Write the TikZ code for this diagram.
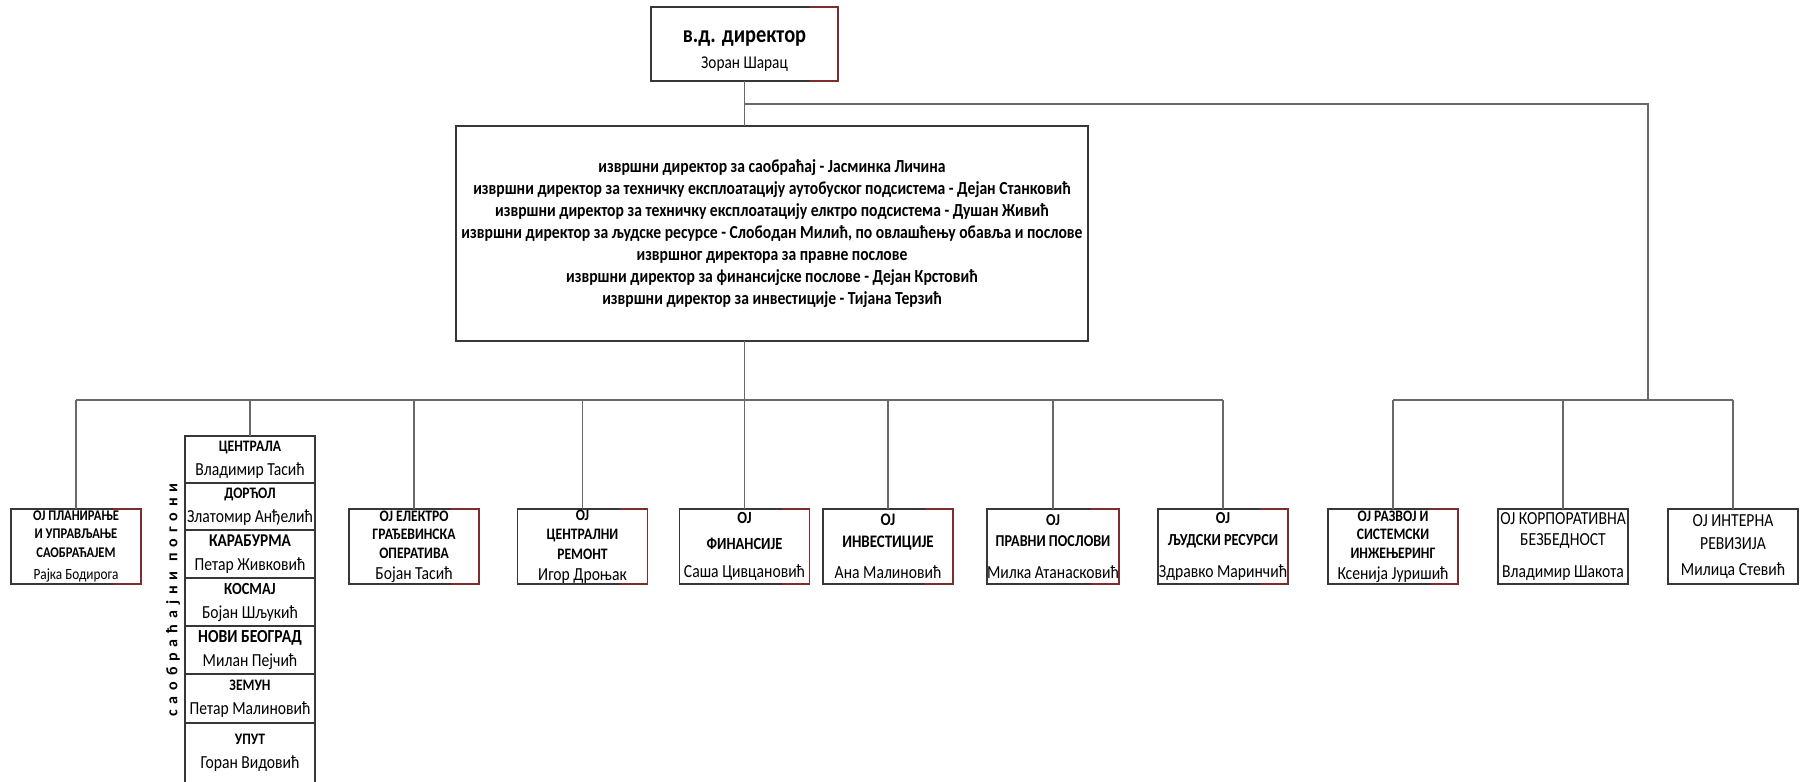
\documentclass[tikz,border=0pt]{standalone}
\usepackage{fontspec}
\setmainfont{Carlito}[FakeStretch=0.85]
\newfontfamily\spacedfont{Carlito}[LetterSpace=37]
\usetikzlibrary{positioning}

\definecolor{boxgray}{RGB}{55,55,55}
\definecolor{linegray}{RGB}{105,105,105}
\definecolor{edgered}{RGB}{125,45,45}

\tikzset{
  conn/.style={draw=linegray, line width=0.7pt},
  unitbox/.style={draw=boxgray, line width=0.8pt, fill=white, inner sep=0pt, outer sep=0pt,
    align=center, minimum width=65pt, minimum height=37.5pt, font=\fontsize{9.2}{9.3}\selectfont},
  rowbox/.style={draw=boxgray, line width=0.8pt, inner sep=0pt, outer sep=0pt,
    align=center, minimum width=65pt, font=\fontsize{9.2}{12}\selectfont},
  rededge/.style={draw=edgered, line width=0.8pt},
}
\newcommand{\hdr}[2][8]{{\bfseries\fontsize{#1}{9.3}\selectfont #2}}

\begin{document}
\begin{tikzpicture}[x=0.5pt, y=-0.5pt] % {{{
\useasboundingbox (0,0) rectangle (1802,781);
% uprava {{{
\node[unitbox, minimum width=93.5pt, minimum height=37pt] (dir) at (744.5,44)
  {\rule{0pt}{13pt}{\bfseries\fontsize{12}{14.5}\selectfont в.д. директор}\\[3.5pt] {\fontsize{9}{9.3}\selectfont Зоран Шарац}};
\node[unitbox, minimum width=316pt, minimum height=107.5pt, font=\bfseries\fontsize{9.2}{11}\selectfont] (exec) at (772,233.5)
  {извршни директор за саобраћај - Јасминка Личина\\
   извршни директор за техничку експлоатацију аутобуског подсистема - Дејан Станковић\\
   извршни директор за техничку експлоатацију елктро подсистема - Душан Живић\\
   извршни директор за људске ресурсе - Слободан Милић, по овлашћењу обавља и послове\\
   извршног директора за правне послове\\
   извршни директор за финансијске послове - Дејан Крстовић\\
   извршни директор за инвестиције - Тијана Терзић};
% }}}
% OJ {{{
\node[unitbox] (plan) at (76,546.5) {\hdr[7.4]{ОЈ ПЛАНИРАЊЕ}\\ \hdr[7.4]{И УПРАВЉАЊЕ}\\ \hdr[7.4]{САОБРАЋАЈЕМ}\\[2pt] {\fontsize{7.8}{9.3}\selectfont Рајка Бодирога}};
\node[unitbox] (elektro) at (414,546.5) {\hdr{ОЈ ЕЛЕКТРО}\\ \hdr{ГРАЂЕВИНСКА}\\ \hdr{ОПЕРАТИВА}\\[1pt] Бојан Тасић};
\node[unitbox] (remont) at (582.5,546.5) {\hdr{ОЈ}\\[0.5pt] \hdr{ЦЕНТРАЛНИ}\\[0.5pt] \hdr{РЕМОНТ}\\[1pt] Игор Дроњак};
\node[unitbox] (fin) at (744.5,546.5) {\hdr[8.5]{ОЈ}\\[3.5pt] \hdr[8.5]{ФИНАНСИЈЕ}\\[5pt] Саша Цивцановић};
\node[unitbox] (inv) at (888,546.5) {\hdr[8.8]{ОЈ}\\[1.6pt] \hdr[8.8]{ИНВЕСТИЦИЈЕ}\\[6.5pt] Ана Малиновић};
\node[unitbox] (prav) at (1053,546.5) {\hdr[8.3]{ОЈ}\\[1.6pt] \hdr[8.3]{ПРАВНИ ПОСЛОВИ}\\[6.5pt] Милка Атанасковић};
\node[unitbox] (ljud) at (1223,546.5) {\hdr[8.4]{ОЈ}\\[1.6pt] \hdr[8.4]{ЉУДСКИ РЕСУРСИ}\\[6.5pt] Здравко Маринчић};
\node[unitbox] (razvoj) at (1393,546.5) {\hdr{ОЈ РАЗВОЈ И}\\ \hdr{СИСТЕМСКИ}\\ \hdr{ИНЖЕЊЕРИНГ}\\[1pt] Ксенија Јуришић};
\node[unitbox] (korp) at (1563,546.5) {ОЈ КОРПОРАТИВНА\\[1.5pt] БЕЗБЕДНОСТ\\[6.5pt] Владимир Шакота};
\node[unitbox] (int) at (1733,546.5) {ОЈ ИНТЕРНА\\[2.2pt] РЕВИЗИЈА\\[3.3pt] Милица Стевић};
% }}}
% pogoni {{{
\node[rowbox, minimum height=23.5pt, anchor=north] (row1) at (250,436) {\hdr{ЦЕНТРАЛА}\\ Владимир Тасић};
\node[rowbox, minimum height=23.5pt, below=0pt of row1] (row2) {\hdr{ДОРЋОЛ}\\ Златомир Анђелић};
\node[rowbox, minimum height=24pt, below=0pt of row2] (row3) {\hdr[9]{КАРАБУРМА}\\ Петар Живковић};
\node[rowbox, minimum height=24pt, below=0pt of row3] (row4) {\hdr[8.5]{КОСМАЈ}\\ Бојан Шљукић};
\node[rowbox, minimum height=24pt, below=0pt of row4] (row5) {\hdr[9.2]{НОВИ БЕОГРАД}\\ Милан Пејчић};
\node[rowbox, minimum height=24.5pt, below=0pt of row5] (row6) {\hdr{ЗЕМУН}\\ Петар Малиновић};
\node[rowbox, minimum height=30pt, below=0pt of row6] (row7) {\hdr{УПУТ}\\ Горан Видовић};
\node[rotate=90, font=\spacedfont\bfseries\fontsize{8}{8}\selectfont] (pogoni) at (173,600) {саобраћајни погони};
% }}}
% veze {{{
\coordinate (busy) at (0,400);
\coordinate (rbranch) at (1648,104);
\draw[conn] (dir.south) -- (dir.south |- exec.north);
\draw[conn] (exec.south -| dir.south) -- (dir.south |- busy);
\draw[conn] (plan.north |- busy) -- (ljud.north |- busy);
\foreach \n in {plan,row1,elektro,remont,fin,inv,prav,ljud}
  \draw[conn] (\n.north) -- (\n.north |- busy);
\draw[conn] (dir.south |- rbranch) -- (rbranch) -- (rbranch |- busy);
\draw[conn] (razvoj.north |- busy) -- (int.north |- busy);
\foreach \n in {razvoj,korp,int}
  \draw[conn] (\n.north) -- (\n.north |- busy);
\foreach \n in {dir,plan,elektro,remont,fin,inv,prav,ljud,razvoj}
  \draw[rededge] ([xshift=-14pt]\n.north east) -- (\n.north east) -- (\n.south east) -- ([xshift=-14pt]\n.south east);
% }}}
\end{tikzpicture} % }}}
\end{document}
